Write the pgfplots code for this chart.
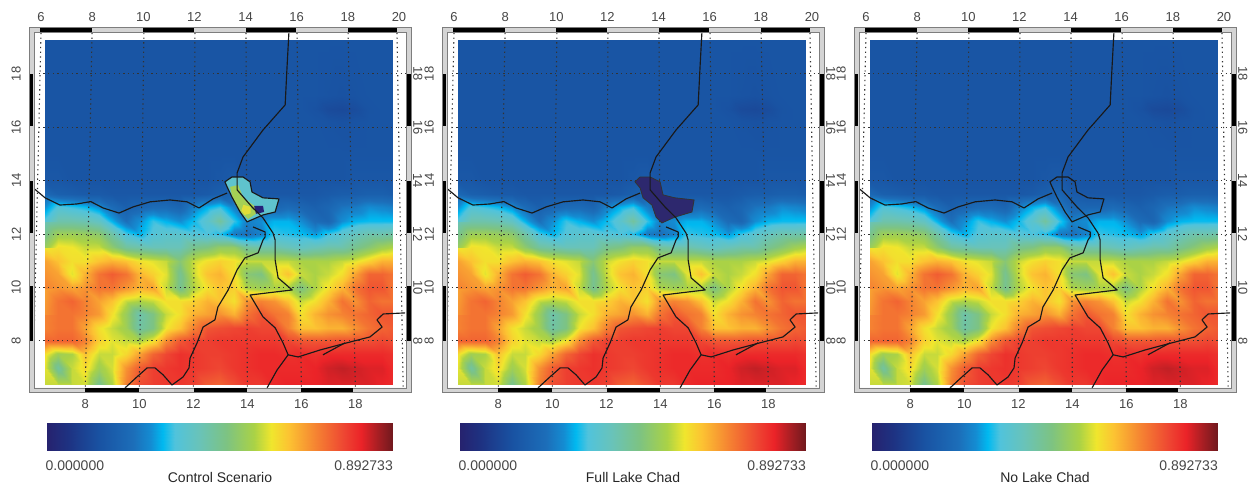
\documentclass[border=0pt]{standalone}
\usepackage{fontspec}
\setmainfont{Liberation Sans}
\usepackage{pgfplots}
\usepackage{pgfplotstable}
\pgfplotsset{compat=1.18}
\definecolor{txt}{RGB}{70,70,70}
\definecolor{bandg}{RGB}{212,212,212}
\definecolor{lineg}{RGB}{125,125,125}
\pgfplotsset{colormap={lake}{
 rgb255(0pt)=(38,34,110); rgb255(6pt)=(30,50,130); rgb255(15pt)=(25,82,162);
 rgb255(25pt)=(28,110,185); rgb255(30pt)=(20,140,210); rgb255(33.5pt)=(0,185,240);
 rgb255(37pt)=(80,195,220); rgb255(44pt)=(105,195,185); rgb255(52pt)=(125,195,130);
 rgb255(60pt)=(170,210,70); rgb255(65pt)=(240,230,45); rgb255(70pt)=(252,195,50);
 rgb255(78pt)=(245,130,50); rgb255(86pt)=(238,70,50); rgb255(91pt)=(235,35,40);
 rgb255(96pt)=(165,30,35); rgb255(100pt)=(115,25,30)}}
% one value per grid cell: x 6.5..19.36 (27 columns), rows from the south
\pgfplotstableread[row sep=crcr,header=false]{
.62\\.62\\.62\\.63\\.50\\.60\\.78\\.85\\.87\\.88\\.88\\.87\\.83\\.82\\.85\\.88\\.88\\.90\\.91\\.91\\.91\\.92\\.92\\.92\\.92\\.91\\.90\\
.64\\.48\\.62\\.67\\.58\\.63\\.76\\.83\\.87\\.88\\.89\\.88\\.87\\.86\\.88\\.89\\.90\\.90\\.90\\.90\\.91\\.93\\.94\\.93\\.92\\.92\\.90\\
.66\\.58\\.60\\.70\\.62\\.62\\.67\\.74\\.82\\.86\\.89\\.88\\.87\\.87\\.88\\.89\\.90\\.90\\.89\\.90\\.89\\.90\\.90\\.90\\.90\\.90\\.89\\
.82\\.82\\.82\\.78\\.68\\.64\\.62\\.60\\.66\\.77\\.84\\.87\\.87\\.88\\.88\\.88\\.88\\.88\\.86\\.84\\.84\\.84\\.85\\.85\\.85\\.86\\.85\\
.78\\.80\\.80\\.74\\.66\\.62\\.58\\.47\\.52\\.65\\.70\\.78\\.84\\.85\\.86\\.87\\.86\\.86\\.78\\.70\\.70\\.72\\.72\\.76\\.80\\.82\\.83\\
.78\\.80\\.80\\.78\\.75\\.66\\.57\\.46\\.52\\.62\\.66\\.72\\.74\\.76\\.72\\.80\\.84\\.80\\.78\\.66\\.72\\.76\\.78\\.80\\.82\\.84\\.84\\
.76\\.80\\.82\\.78\\.74\\.70\\.62\\.60\\.62\\.66\\.66\\.68\\.72\\.70\\.66\\.76\\.78\\.76\\.70\\.62\\.66\\.72\\.80\\.76\\.82\\.80\\.80\\
.74\\.76\\.74\\.76\\.80\\.80\\.76\\.72\\.74\\.62\\.50\\.60\\.66\\.70\\.68\\.60\\.58\\.60\\.60\\.52\\.60\\.66\\.72\\.80\\.84\\.84\\.80\\
.78\\.74\\.64\\.72\\.80\\.83\\.80\\.72\\.68\\.64\\.50\\.62\\.70\\.72\\.66\\.54\\.52\\.64\\.70\\.62\\.60\\.62\\.66\\.74\\.82\\.82\\.80\\
.74\\.70\\.66\\.66\\.70\\.72\\.70\\.66\\.64\\.62\\.54\\.62\\.66\\.68\\.66\\.62\\.62\\.62\\.62\\.60\\.60\\.60\\.62\\.64\\.68\\.72\\.72\\
.65\\.66\\.65\\.62\\.62\\.55\\.48\\.46\\.44\\.44\\.44\\.50\\.52\\.56\\.56\\.48\\.46\\.46\\.44\\.42\\.44\\.46\\.46\\.50\\.54\\.58\\.60\\
.57\\.58\\.58\\.57\\.55\\.47\\.37\\.33\\.38\\.40\\.40\\.38\\.37\\.35\\.27\\.25\\.28\\.36\\.35\\.34\\.31\\.36\\.40\\.43\\.46\\.46\\.47\\
.44\\.46\\.46\\.45\\.42\\.33\\.25\\.30\\.36\\.33\\.30\\.34\\.40\\.48\\.36\\.28\\.30\\.33\\.33\\.30\\.24\\.22\\.30\\.33\\.34\\.34\\.34\\
.38\\.38\\.36\\.34\\.30\\.24\\.20\\.22\\.24\\.24\\.22\\.28\\.33\\.36\\.28\\.22\\.22\\.22\\.24\\.22\\.20\\.22\\.26\\.27\\.30\\.29\\.28\\
.23\\.20\\.19\\.18\\.18\\.17\\.17\\.17\\.17\\.17\\.17\\.17\\.18\\.20\\.22\\.18\\.17\\.17\\.17\\.17\\.17\\.18\\.19\\.19\\.20\\.20\\.19\\
.17\\.17\\.16\\.16\\.16\\.16\\.16\\.16\\.16\\.16\\.16\\.16\\.16\\.17\\.18\\.16\\.16\\.16\\.16\\.16\\.16\\.16\\.16\\.17\\.17\\.17\\.17\\
.16\\.16\\.16\\.16\\.16\\.16\\.16\\.16\\.16\\.16\\.16\\.16\\.16\\.16\\.16\\.16\\.16\\.16\\.16\\.16\\.16\\.16\\.16\\.16\\.16\\.16\\.16\\
.16\\.16\\.16\\.16\\.16\\.16\\.16\\.16\\.16\\.16\\.16\\.16\\.16\\.16\\.16\\.16\\.16\\.16\\.16\\.16\\.16\\.155\\.15\\.155\\.16\\.16\\.16\\
.16\\.16\\.16\\.16\\.16\\.16\\.16\\.16\\.16\\.16\\.16\\.16\\.16\\.16\\.16\\.16\\.16\\.16\\.16\\.16\\.15\\.13\\.125\\.135\\.155\\.16\\.16\\
.16\\.16\\.16\\.16\\.16\\.16\\.16\\.16\\.16\\.16\\.16\\.16\\.16\\.16\\.16\\.16\\.16\\.16\\.16\\.16\\.16\\.155\\.15\\.155\\.16\\.16\\.16\\
.16\\.16\\.16\\.16\\.16\\.16\\.16\\.16\\.16\\.16\\.16\\.16\\.16\\.16\\.16\\.16\\.16\\.16\\.16\\.16\\.16\\.16\\.16\\.16\\.16\\.16\\.16\\
}\heat
\tikzset{gridl/.style={black!80,line width=1.1pt,dash pattern=on 1.3pt off 3.4pt},
 bord/.style={black!90,line width=1.15pt,line join=round}}
\newcommand{\Panel}[3]{%
 \begin{axis}[at={(29pt+#1pt,93pt)},anchor=south west,scale only axis,width=382pt,height=365.5pt,
  xmin=5.915,xmax=20.06,ymin=6.05,ymax=19.74,
  axis line style={draw=none},tick style={draw=none},
  xtick={8,10,12,14,16,18},ytick={8,10,12,14,16,18},
  xticklabels={8,10,12,14,16,18},yticklabels={8,10,12,14,16,18},
  xticklabel pos=lower,yticklabel pos=lower,
  xticklabel shift=6pt,yticklabel shift=8pt,
  tick label style={font=\fontsize{13}{13}\selectfont,text=txt,inner sep=0pt},
  yticklabel style={rotate=90,anchor=south},
  colormap name=lake,point meta min=0,point meta max=1]
  \addplot[surf,shader=interp,mesh/cols=27,point meta=explicit] table[
   x index=0,y index=0,z index=0,
   x expr={min(19.36,6.5+0.5*mod(\coordindex,27))},
   y expr={\coordindex<27?6.35:(\coordindex<432?6.5+0.5*floor(\coordindex/27):(\coordindex<459?15:(\coordindex<486?16.2:(\coordindex<513?16.7:(\coordindex<540?17.2:19.27)))))},
   meta index=0]{\heat};
  \addplot[gridl] coordinates {(6.1,8)(19.92,8)};
  \addplot[gridl] coordinates {(6.1,10)(19.92,10)};
  \addplot[gridl] coordinates {(6.1,12)(19.92,12)};
  \addplot[gridl] coordinates {(6.1,14)(19.92,14)};
  \addplot[gridl] coordinates {(6.1,16)(19.92,16)};
  \addplot[gridl] coordinates {(6.1,18)(19.92,18)};
  \addplot[gridl] coordinates {(6.36,19.54)(6.06,6.24)};
  \addplot[gridl] coordinates {(8.25,19.54)(8,6.24)};
  \addplot[gridl] coordinates {(10.17,19.54)(10,6.24)};
  \addplot[gridl] coordinates {(12.06,19.54)(12,6.24)};
  \addplot[gridl] coordinates {(13.95,19.54)(14,6.24)};
  \addplot[gridl] coordinates {(15.84,19.54)(16,6.24)};
  \addplot[gridl] coordinates {(17.73,19.54)(18,6.24)};
  \addplot[gridl] coordinates {(19.54,19.54)(19.77,6.24)};
  #3
  \addplot[bord] coordinates {(6.11,13.70)(6.51,13.36)(7.06,13.09)(7.69,13.13)(8.20,13.22)(8.66,12.98)(9.25,12.79)(9.77,13.02)(10.40,13.21)(11.14,13.28)(11.77,13.21)(12.21,12.98)(12.73,13.32)(13.25,13.54)};
  \addplot[bord] coordinates {(15.54,19.57)(15.47,18.26)(15.40,16.84)(14.58,15.90)(13.84,14.89)(13.62,14.29)(13.62,13.66)(14.17,13.02)(14.58,12.61)(14.95,12.04)(15.03,11.78)(15.03,11.03)(15.14,10.36)(15.66,9.91)(14.10,9.72)(14.58,8.90)(15.03,8.49)(15.32,7.93)(15.51,7.48)(15.88,7.40)(16.69,7.66)(17.69,7.93)(18.54,8.15)(18.99,8.52)(18.80,8.79)(19.03,9.01)(19.84,9.05)};
  \addplot[bord] coordinates {(15.51,7.48)(15.10,6.91)(14.73,6.24)};
  \addplot[bord] coordinates {(16.80,7.48)(17.62,7.93)};
  \addplot[bord] coordinates {(14.21,12.27)(14.66,12.08)(14.66,11.90)(14.58,11.78)(14.40,11.30)(13.91,11.11)(13.62,10.66)(13.29,9.91)(12.91,9.27)(12.80,8.79)(12.36,8.52)(12.14,7.93)(11.88,7.36)(11.84,6.99)(11.62,6.65)(11.21,6.35)(10.88,6.73)(10.58,6.99)(10.29,6.99)(9.91,6.65)(9.47,6.24)};
 \end{axis}
 \begin{axis}[at={(29pt+#1pt,93pt)},anchor=south west,scale only axis,width=382pt,height=365.5pt,
  xmin=5.53,xmax=20.47,ymin=6.05,ymax=19.74,
  axis line style={draw=none},tick style={draw=none},
  xtick={6,8,10,12,14,16,18,20},ytick={8,10,12,14,16,18},
  xticklabels={6,8,10,12,14,16,18,20},yticklabels={8,10,12,14,16,18},
  xticklabel pos=upper,yticklabel pos=upper,
  xticklabel shift=6pt,yticklabel shift=2pt,
  tick label style={font=\fontsize{13}{13}\selectfont,text=txt,inner sep=0pt},
  yticklabel style={rotate=-90,anchor=south}]
  \addplot[draw=none] coordinates {(6,8)};
 \end{axis}
 % map frame
 \fill[bandg,even odd rule] (#1+29,458.5) rectangle (#1+411,93) (#1+34,453.5) rectangle (#1+406,98);
 \draw[lineg,line width=1pt] (#1+29,458.5) rectangle (#1+411,93);
 \draw[lineg,line width=0.8pt] (#1+34,453.5) rectangle (#1+406,98);
 \fill[black] (#1+40,457.8) rectangle (#1+92,454.3);
 \fill[black] (#1+143,457.8) rectangle (#1+194,454.3);
 \fill[black] (#1+246,457.8) rectangle (#1+296,454.3);
 \fill[black] (#1+348,457.8) rectangle (#1+397,454.3);
 \fill[black] (#1+85,94) rectangle (#1+139,97.5);
 \fill[black] (#1+194,94) rectangle (#1+247,97.5);
 \fill[black] (#1+301,94) rectangle (#1+353,97.5);
 \foreach \a/\b in {412/360,305/253,200/145}{
  \fill[black] (#1+29.5,\a) rectangle (#1+33,\b);
  \fill[black] (#1+407,\a) rectangle (#1+410.5,\b);}
 % colour bar
 \begin{axis}[at={(47pt+#1pt,35pt)},anchor=south west,scale only axis,width=345pt,height=28pt,
  xmin=0,xmax=1,ymin=0,ymax=1,hide axis,colormap name=lake,point meta min=0,point meta max=1]
  \addplot[surf,shader=interp,mesh/cols=2,point meta=x] coordinates {(0,0)(1,0)(0,1)(1,1)};
 \end{axis}
 \node[anchor=base west,inner sep=0pt,text=txt,font=\fontsize{14}{14}\selectfont] at (#1+45.5,15) {0.000000};
 \node[anchor=base east,inner sep=0pt,text=txt,font=\fontsize{14}{14}\selectfont] at (#1+393,15) {0.892733};
 \node[anchor=base,inner sep=0pt,text=black!85,font=\fontsize{14}{14}\selectfont] at (#1+220,3) {#2};
}
\begin{document}
\begin{tikzpicture}[x=1pt,y=1pt]
\path[use as bounding box] (0,0) rectangle (1255,486);
\Panel{0}{Control Scenario}{
  \addplot[fill={rgb,255:red,95;green,195;blue,205},draw=none] coordinates {(13.17,13.96)(13.43,14.14)(13.84,14.14)(14.10,13.96)(14.17,13.58)(14.58,13.36)(15.17,13.32)(15.03,12.83)(14.58,12.72)(13.99,12.46)(13.73,12.83)(13.43,13.39)(13.25,13.77)} --cycle;
  \addplot[fill={rgb,255:red,165;green,208;blue,85},draw=none] coordinates {(13.36,13.77)(13.66,13.84)(13.84,13.39)(14.21,13.09)(14.54,12.91)(14.03,12.57)(13.73,12.83)(13.47,13.28)} --cycle;
  \addplot[fill={rgb,255:red,225;green,222;blue,55},draw=none] coordinates {(13.85,13.10)(14.12,13.02)(14.12,12.78)(13.90,12.72)(13.78,12.88)} --cycle;
  \addplot[fill={rgb,255:red,38;green,34;blue,120},draw=none] coordinates {(14.25,13.06)(14.58,13.06)(14.62,12.83)(14.32,12.76)} --cycle;
  \addplot[bord] coordinates {(13.17,13.96)(13.43,14.14)(13.84,14.14)(14.10,13.96)(14.17,13.58)(14.58,13.36)(15.17,13.32)(15.03,12.83)(14.58,12.72)(13.99,12.46)(13.73,12.83)(13.43,13.39)(13.25,13.77)} --cycle;
}
\Panel{413}{Full Lake Chad}{
  \addplot[fill={rgb,255:red,45;green,40;blue,110},draw=black!80,line width=0.8pt] coordinates {(13.06,13.96)(13.25,14.14)(13.62,14.14)(13.99,13.96)(14.10,13.47)(14.54,13.36)(15.25,13.28)(15.17,12.83)(14.54,12.64)(14.06,12.42)(13.84,12.64)(13.69,13.09)(13.36,13.36)(13.25,13.73)} --cycle;
}
\Panel{825}{No Lake Chad}{
  \addplot[bord] coordinates {(13.17,13.96)(13.43,14.14)(13.84,14.14)(14.10,13.96)(14.17,13.58)(14.58,13.36)(15.17,13.32)(15.03,12.83)(14.58,12.72)(13.99,12.46)(13.73,12.83)(13.43,13.39)(13.25,13.77)} --cycle;
}
\end{tikzpicture}
\end{document}
